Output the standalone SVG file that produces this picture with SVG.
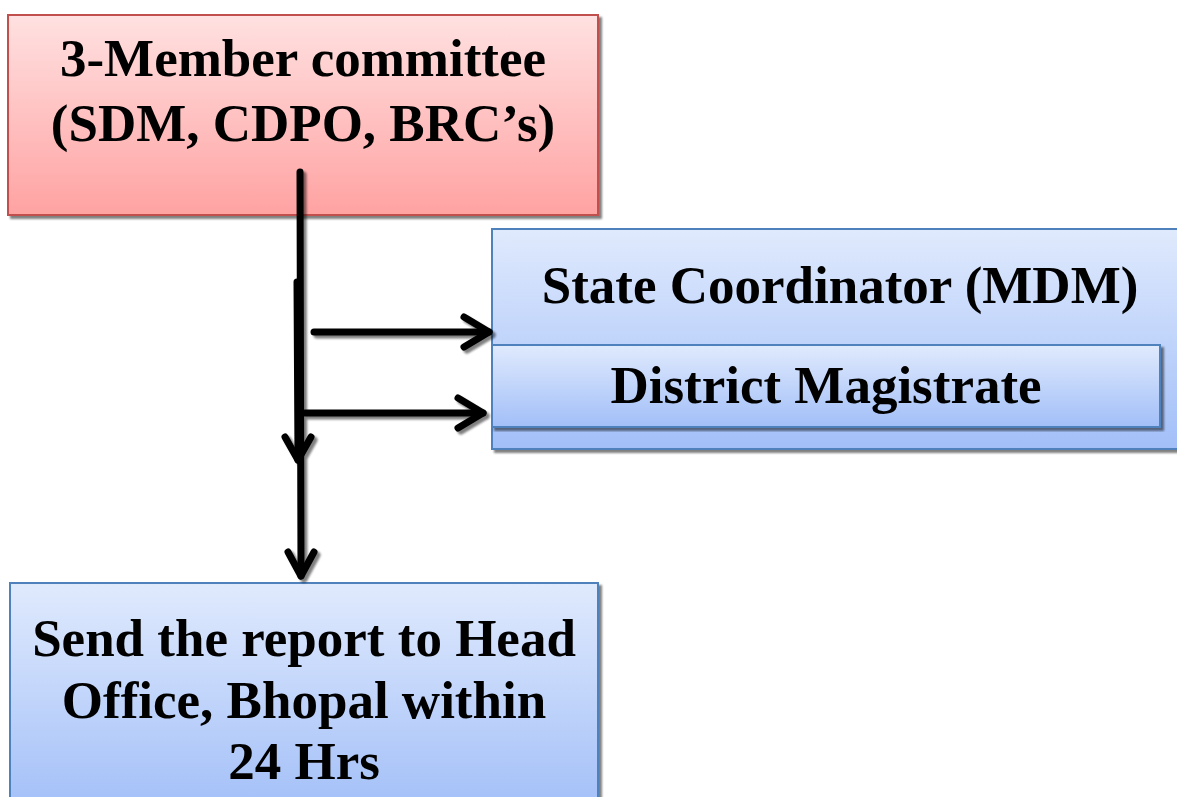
<svg xmlns="http://www.w3.org/2000/svg" width="1177" height="797" viewBox="0 0 1177 797">
<style>
.t{font-family:"Liberation Serif","Times New Roman",serif;font-weight:bold;font-size:53px;fill:#000;text-anchor:middle}
.pink{fill:url(#gp);stroke:#C0504D;stroke-width:2}
.blue{fill:url(#gb);stroke:#4F81BD;stroke-width:2}
.sh{fill:#8a8a8a;opacity:0.8}
.ln{stroke:#000;stroke-width:7;fill:none;stroke-linecap:round;stroke-linejoin:round}
</style>
<defs>
<linearGradient id="gp" x1="0" y1="0" x2="0" y2="1">
<stop offset="0" stop-color="#FFE1E1"/>
<stop offset="1" stop-color="#FFA2A2"/>
</linearGradient>
<linearGradient id="gb" x1="0" y1="0" x2="0" y2="1">
<stop offset="0" stop-color="#E0EAFD"/>
<stop offset="1" stop-color="#A2BFF8"/>
</linearGradient>
<filter id="ds" x="-5%" y="-5%" width="110%" height="110%">
<feGaussianBlur in="SourceAlpha" stdDeviation="1.2"/>
<feOffset dx="3" dy="3" result="o"/>
<feComponentTransfer><feFuncA type="linear" slope="0.5"/></feComponentTransfer>
<feMerge><feMergeNode/><feMergeNode in="SourceGraphic"/></feMerge>
</filter>
</defs>
<g id="committee">
<rect class="pink" x="8" y="15" width="590" height="200" filter="url(#ds)"/>
<text class="t" x="303" y="76">3-Member committee</text>
<text class="t" x="303" y="141">(SDM, CDPO, BRC’s)</text>
</g>
<g id="state-coordinator">
<rect class="blue" x="492" y="229" width="690" height="220" filter="url(#ds)"/>
<text class="t" x="840" y="303">State Coordinator (MDM)</text>
</g>
<g id="district-magistrate">
<rect class="blue" x="492" y="345" width="668" height="82" filter="url(#ds)"/>
<text class="t" x="826" y="403">District Magistrate</text>
</g>
<g id="report">
<rect class="blue" x="10" y="583" width="588" height="230" filter="url(#ds)"/>
<text class="t" x="304" y="656">Send the report to Head</text>
<text class="t" x="304" y="718">Office, Bhopal within</text>
<text class="t" x="304" y="779">24 Hrs</text>
</g>
<g id="connectors" filter="url(#ds)">
<path class="ln" d="M300,172 L301,576"/>
<polyline class="ln" points="288,552 301,576 314,552"/>
<path class="ln" d="M297,282 L298,460"/>
<polyline class="ln" points="285,437 298,460 311,437"/>
<path class="ln" d="M314,332 L489,332"/>
<polyline class="ln" points="464,317 489,332 464,347"/>
<path class="ln" d="M305,413 L483,413"/>
<polyline class="ln" points="458,398 483,413 458,428"/>
</g>
</svg>
